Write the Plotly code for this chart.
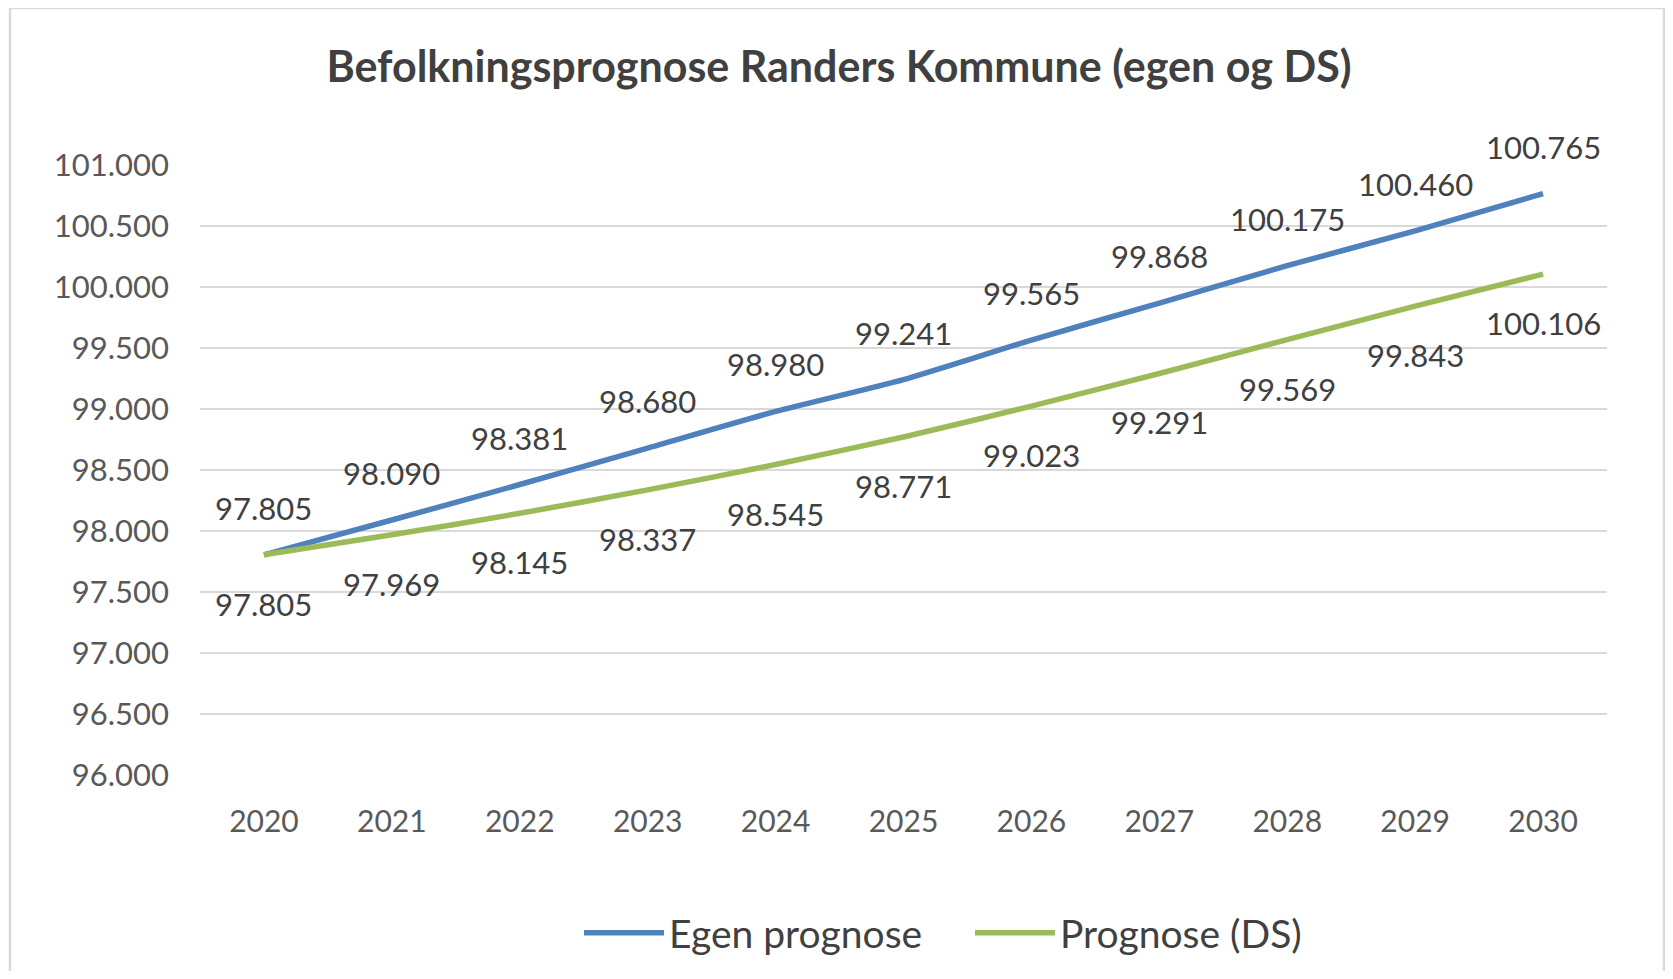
import plotly.graph_objects as go

years = ["2020", "2021", "2022", "2023", "2024", "2025", "2026", "2027", "2028", "2029", "2030"]
egen = [97805, 98090, 98381, 98680, 98980, 99241, 99565, 99868, 100175, 100460, 100765]
ds = [97805, 97969, 98145, 98337, 98545, 98771, 99023, 99291, 99569, 99843, 100106]
y_ticks = [96000, 96500, 97000, 97500, 98000, 98500, 99000, 99500, 100000, 100500, 101000]

title_text = "Befolkningsprognose Randers Kommune (egen og DS)"
name_egen = "Egen prognose"
name_ds = "Prognose (DS)"

BLUE = "#4F81BD"
GREEN = "#9BBB59"
FONT = "Lato"


def fmt(v):
    return f"{v:,}".replace(",", ".")


fig = go.Figure()
fig.add_trace(go.Scatter(x=years, y=egen, mode="lines", name=name_egen,
                         line=dict(color=BLUE, width=5.5, shape="spline", smoothing=0.6)))
fig.add_trace(go.Scatter(x=years, y=ds, mode="lines", name=name_ds,
                         line=dict(color=GREEN, width=5.5, shape="spline", smoothing=0.6)))

annotations = []
for i, v in enumerate(egen):
    annotations.append(dict(x=i, y=v, xref="x", yref="y", text=fmt(v), showarrow=False,
                            yshift=47, font=dict(family=FONT, size=31, color="#404040")))
for i, v in enumerate(ds):
    annotations.append(dict(x=i, y=v, xref="x", yref="y", text=fmt(v), showarrow=False,
                            yshift=-49, font=dict(family=FONT, size=31, color="#404040")))

# page body has an 8px margin; figure coordinates = screen coordinates - 8
OFF = 8
W, H = 1673 - 2 * OFF, 979 - 2 * OFF
L, T = 200 - OFF, 164 - OFF
R = W - (1607 - OFF)
B = H - (776 - OFF)
pw, ph = W - L - R, H - T - B


def px_x(p):
    return (p - OFF - L) / pw


def px_y(p):
    return (H - B - (p - OFF)) / ph


fig.update_layout(
    width=W, height=H,
    margin=dict(l=L, r=R, t=T, b=B, autoexpand=False),
    paper_bgcolor="white", plot_bgcolor="white",
    separators=",.",
    title=dict(text="<b>" + title_text + "</b>", x=(839 - OFF) / W, xref="container",
               xanchor="center", y=1 - (67 - OFF) / H, yref="container", yanchor="middle",
               font=dict(family=FONT, size=43, color="#404040")),
    xaxis=dict(type="category", range=[-0.5, 10.5], showgrid=False, zeroline=False,
               showline=False, ticks="", ticklabelstandoff=25, automargin=False,
               tickfont=dict(family=FONT, size=30, color="#595959")),
    yaxis=dict(range=[95992, 101008], tickvals=y_ticks, tickformat=",d", showgrid=True,
               gridcolor="#D9D9D9", gridwidth=1.5, zeroline=False, showline=False, ticks="",
               ticklabelstandoff=30, automargin=False,
               tickfont=dict(family=FONT, size=31, color="#595959")),
    legend=dict(orientation="h", x=px_x(579), xanchor="left", y=px_y(933), yanchor="middle",
                font=dict(family=FONT, size=39, color="#404040"), itemwidth=80,
                entrywidth=296, bgcolor="rgba(0,0,0,0)"),
    annotations=annotations,
    shapes=[dict(type="rect", xref="paper", yref="paper",
                 x0=px_x(10), x1=px_x(1664), y0=px_y(995), y1=px_y(8),
                 line=dict(color="#D9D9D9", width=2.5), fillcolor="rgba(0,0,0,0)", layer="below")],
)

fig.write_html("out.html")
